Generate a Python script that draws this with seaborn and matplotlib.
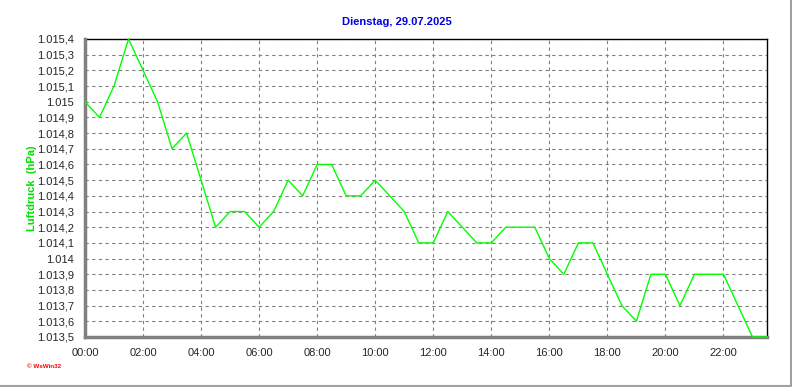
import matplotlib
matplotlib.use("Agg")
import matplotlib.pyplot as plt
import seaborn as sns
import pandas as pd
from matplotlib.lines import Line2D

hours = [i * 0.5 for i in range(48)]
pressure = [
    1015.0, 1014.9, 1015.1, 1015.4, 1015.2, 1015.0, 1014.7, 1014.8,
    1014.5, 1014.2, 1014.3, 1014.3, 1014.2, 1014.3, 1014.5, 1014.4,
    1014.6, 1014.6, 1014.4, 1014.4, 1014.5, 1014.4, 1014.3, 1014.1,
    1014.1, 1014.3, 1014.2, 1014.1, 1014.1, 1014.2, 1014.2, 1014.2,
    1014.0, 1013.9, 1014.1, 1014.1, 1013.9, 1013.7, 1013.6, 1013.9,
    1013.9, 1013.7, 1013.9, 1013.9, 1013.9, 1013.7, 1013.5, 1013.5,
]
x_ticks = list(range(0, 24, 2))
x_labels = [f"{h:02d}:00" for h in x_ticks]
y_ticks = [round(1013.5 + 0.1 * i, 1) for i in range(20)]
title = "Dienstag, 29.07.2025"
ylabel = "Luftdruck  (hPa)"

def de_fmt(v):
    s = f"{v:,.1f}".replace(",", "X").replace(".", ",").replace("X", ".")
    if s.endswith(",0"):
        s = s[:-2]
    return s

sns.set_style("white")
plt.rcParams["font.family"] = ["Liberation Sans", "DejaVu Sans"]

fig = plt.figure(figsize=(7.92, 3.87), dpi=100)
ax = fig.add_axes([85 / 792, 1 - 337 / 387, (767 - 85) / 792, (337 - 39) / 387])

df = pd.DataFrame({"t": hours, "p": pressure})
sns.lineplot(data=df, x="t", y="p", ax=ax, color="#00FF00", linewidth=1.0)
for ln in ax.get_lines():
    ln.set_zorder(5)
    ln.set_clip_on(False)

ax.set_xlim(0, 23.5)
ax.set_ylim(1013.5, 1015.4)
ax.set_xticks(x_ticks)
ax.set_xticklabels(x_labels, fontsize=8)
ax.set_xticks([i * 0.5 for i in range(48)], minor=True)
ax.set_yticks(y_ticks)
ax.set_yticklabels([de_fmt(v) for v in y_ticks], fontsize=8)
ax.tick_params(axis="x", which="major", length=4, color="#808080", pad=4)
ax.tick_params(axis="x", which="minor", length=3, color="#808080")
ax.tick_params(axis="y", which="major", length=3, color="#808080", pad=5)

ax.grid(True, which="major", linestyle=(0, (3, 3)), color="#808080", linewidth=0.8)
ax.set_axisbelow(True)

for side in ["left", "bottom"]:
    ax.spines[side].set_color("#808080")
    ax.spines[side].set_linewidth(2.5)
    ax.spines[side].set_zorder(3)
for side in ["top", "right"]:
    ax.spines[side].set_color("black")
    ax.spines[side].set_linewidth(1.0)

ax.set_xlabel("")
ax.set_ylabel("")

fig.text(397 / 792, 1 - 22 / 387, title, color="#0000E0", fontsize=8,
         fontweight="bold", ha="center", va="center")
fig.text(32 / 792, 1 - 188 / 387, ylabel, color="#00E000", fontsize=8,
         fontweight="bold", rotation=90, ha="center", va="center")
fig.text(27 / 792, 1 - 367 / 387, "\u00a9 WsWin32", color="red", fontsize=4.5,
         fontweight="bold", ha="left", va="center")

fig.add_artist(Line2D([0, 790 / 792], [1 - 385.5 / 387] * 2, color="#A0A0A0",
                      linewidth=1.5, transform=fig.transFigure))
fig.add_artist(Line2D([790.5 / 792] * 2, [1 - 385.5 / 387, 1], color="#A0A0A0",
                      linewidth=1.5, transform=fig.transFigure))

fig.savefig("out.png", dpi=100)
